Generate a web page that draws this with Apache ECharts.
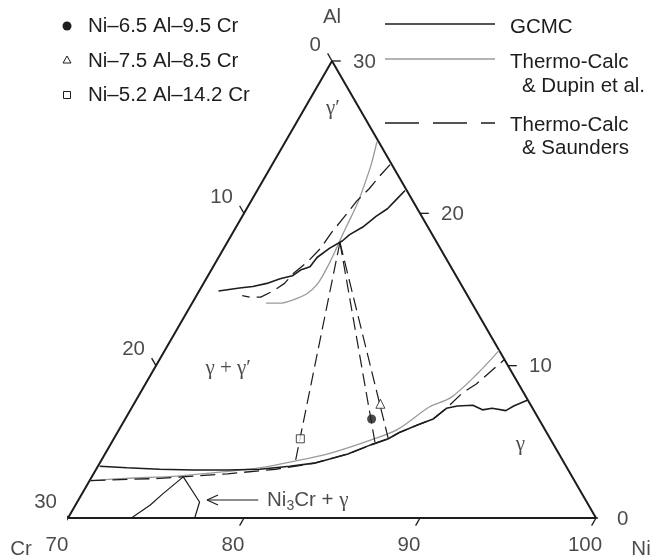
<!DOCTYPE html>
<html>
<head>
<meta charset="utf-8">
<script src="https://cdn.jsdelivr.net/npm/echarts@6/dist/echarts.min.js"></script>
<style>
  html, body { margin: 0; padding: 0; background: #fff; }
  #chart { width: 650px; height: 560px; }
</style>
</head>
<body>
<div id="chart"></div>
<script>
// Compositions in at.% written as [Al, Cr]; Ni is the balance.
const frame = [[0, 30], [0, 0], [30, 0], [0, 30]];

const gcmcUpper = [[21.5, 0.1], [20.9, 0.9], [20.3, 1.7], [19.8, 2.6], [19.1, 3.7], [18.6, 4.7], [18.2, 5.3],
  [17.7, 6.3], [17.1, 7.3], [16.5, 8.0], [16.3, 8.6], [15.9, 9.3], [15.7, 10.1], [15.4, 11.0], [15.2, 11.9],
  [15.1, 12.7], [14.9, 14.0]];
const gcmcLower = [[3.4, 26.5], [3.3, 25.0], [3.2, 23.2], [3.15, 21.3], [3.15, 19.4], [3.2, 17.5], [3.4, 15.7],
  [3.6, 14.2], [4.2, 12.0], [4.8, 10.4], [5.2, 9.2], [5.6, 8.4], [6.1, 7.1], [6.5, 6.0], [7.2, 4.9], [7.35, 4.2],
  [7.4, 3.3], [7.1, 2.9], [7.2, 2.3], [7.05, 1.6], [7.35, 1.0], [7.75, 0.0]];

const dupinUpper = [[24.7, 0.1], [23.3, 1.1], [21.9, 2.2], [20.8, 3.1], [19.8, 4.0], [18.6, 5.1], [17.7, 5.9],
  [16.5, 7.0], [15.4, 8.1], [14.7, 9.1], [14.3, 10.1], [14.1, 10.9], [14.1, 11.7]];
const dupinLower = [[2.45, 27.5], [2.6, 25.4], [2.75, 22.4], [3.05, 19.5], [3.3, 17.4], [3.7, 15.4], [4.25, 13.0],
  [5.1, 10.3], [5.8, 8.4], [7.3, 5.8], [7.9, 4.3], [9.4, 2.1], [11.0, 0.0]];

const saundersUpper = [[23.2, 0.1], [22.5, 1.0], [21.6, 2.1], [20.8, 3.2], [19.7, 4.5], [18.7, 5.7], [17.7, 6.8],
  [16.8, 8.0], [16.1, 9.1], [15.4, 10.0], [14.9, 10.9], [14.5, 11.8], [14.5, 12.4], [14.6, 12.8]];
const saundersLower = [[2.45, 27.5], [2.6, 23.5], [2.9, 19.5], [3.2, 16.6], [3.6, 14.2], [4.2, 12.0], [4.8, 10.4],
  [5.2, 9.2], [5.6, 8.4], [6.1, 7.1], [6.5, 6.0], [7.2, 4.9], [8.2, 3.5], [8.8, 2.4], [9.6, 1.2], [10.4, 0.0]];

// Tie lines through the three alloys
const tieSquare = [[18.1, 5.5], [3.75, 15.2]];
const tieCircle = [[18.1, 5.5], [4.9, 10.1]];
const tieTriangle = [[18.1, 5.5], [5.2, 9.2]];

// Ni3Cr + gamma field near the Ni-Cr side
const ni3CrField = [[0, 26.4], [0.85, 24.9], [1.6, 23.8], [2.7, 22.1], [1.05, 22.0], [0, 22.8]];
const arrowShaft = [[1.18, 18.6], [1.18, 21.5]];
const arrowHead = [[1.51, 20.72], [1.18, 21.51], [0.85, 21.05]];
const ni3CrLabelAt = [1.18, 18.1];

// Alloys
const alloyCircle = [[6.5, 9.5]];
const alloyTriangle = [[7.5, 8.5]];
const alloySquare = [[5.2, 14.2]];

// Phase labels
const phaseLabels = [
  { at: [26.9, 1.5], text: 'γ′' },
  { at: [9.8, 16.0], text: 'γ + γ′' },
  { at: [4.8, 1.9], text: 'γ' }
];

// Axis ticks
const niTicks = [70, 80, 90, 100];
const crTicks = [0, 10, 20, 30];
const alTicks = [0, 10, 20, 30];
const corners = [{ at: [30, 0], name: 'Al' }, { at: [0, 30], name: 'Cr' }, { at: [0, 0], name: 'Ni' }];

const S3 = Math.sqrt(3) / 2;
function toXY(p) {
  const al = p[0], cr = p[1];
  const ni = 100 - al - cr;
  return [ni - 70 + al / 2, al * S3];
}

const FONT = 'Liberation Sans, Arial, Helvetica, sans-serif';
const SERIF = 'Liberation Serif, Times New Roman, serif';
const INK = '#1d1d1d';
const FS = 20.5;

function lineSeries(points, style, extra) {
  return Object.assign({
    type: 'line',
    data: points.map(toXY),
    symbol: 'none',
    clip: false,
    silent: true,
    animation: false,
    lineStyle: style
  }, extra || {});
}

const series = [];
series.push(lineSeries(frame, { color: INK, width: 2 }));

// ticks
const tickStyle = { color: INK, width: 1.3 };
niTicks.forEach(n => series.push(lineSeries([[0, 100 - n], [-0.5, 100 - n + 0.5]], tickStyle)));
crTicks.forEach(c => series.push(lineSeries([[30 - c, c], [30 - c + 0.5, c]], tickStyle)));
alTicks.forEach(a => series.push(lineSeries([[a, 0], [a, -0.5]], tickStyle)));

const gray = { color: '#9a9a9a', width: 1.3 };
const dash = { color: INK, width: 1.3, type: [15, 7] };
const solid = { color: INK, width: 1.6 };
series.push(lineSeries(dupinUpper, gray, { smooth: 0.3 }));
series.push(lineSeries(dupinLower, gray, { smooth: 0.3 }));
series.push(lineSeries(saundersUpper, dash));
series.push(lineSeries(saundersLower, dash));
series.push(lineSeries(gcmcUpper, solid));
series.push(lineSeries(gcmcLower, solid));
const tieDash = { color: INK, width: 1.2, type: [13, 6] };
series.push(lineSeries(tieSquare, tieDash));
series.push(lineSeries(tieCircle, tieDash));
series.push(lineSeries(tieTriangle, tieDash));
series.push(lineSeries(ni3CrField, { color: INK, width: 1.2 }));
series.push(lineSeries(arrowShaft, { color: INK, width: 1.2 }));
series.push(lineSeries(arrowHead, { color: INK, width: 1.2 }));

function labelSeries(items, label) {
  return {
    type: 'scatter',
    data: items.map(it => ({ value: toXY(it.at), txt: it.text })),
    symbolSize: 1,
    itemStyle: { color: 'transparent' },
    silent: true,
    animation: false,
    clip: false,
    label: Object.assign({
      show: true,
      position: 'inside',
      formatter: p => p.data.txt,
      color: INK,
      fontFamily: FONT,
      fontSize: FS,
      verticalAlign: 'middle'
    }, label)
  };
}

series.push(labelSeries(niTicks.map(n => ({ at: [0, 100 - n], text: String(n) })),
  { align: 'center', offset: [-11, 27] }));
series.push(labelSeries(crTicks.map(c => ({ at: [30 - c, c], text: String(c) })),
  { align: 'right', offset: [-11, -16] }));
series.push(labelSeries(alTicks.map(a => ({ at: [a, 0], text: String(a) })),
  { align: 'left', offset: [21, 1] }));
series.push(labelSeries([corners[0]].map(c => ({ at: c.at, text: c.name })), { align: 'center', offset: [0, -44] }));
series.push(labelSeries([corners[1]].map(c => ({ at: c.at, text: c.name })), { align: 'center', offset: [-47, 31] }));
series.push(labelSeries([corners[2]].map(c => ({ at: c.at, text: c.name })), { align: 'center', offset: [45, 31] }));
series.push(labelSeries(phaseLabels, { align: 'center', fontFamily: SERIF, fontSize: 21 }));
series.push(labelSeries([{ at: ni3CrLabelAt, text: '{a|Ni}{s|3}{a|Cr + }{g|γ}' }], {
  align: 'left',
  rich: {
    a: { fontFamily: FONT, fontSize: FS, color: INK },
    s: { fontFamily: FONT, fontSize: 14, color: INK, padding: [12, 0, 0, 0] },
    g: { fontFamily: SERIF, fontSize: 21, color: INK }
  }
}));

// alloy markers
series.push({
  type: 'scatter', data: alloyCircle.map(toXY), symbol: 'circle', symbolSize: 9,
  itemStyle: { color: INK }, silent: true, animation: false, z: 5
});
series.push({
  type: 'scatter', data: alloyTriangle.map(toXY), symbol: 'triangle', symbolSize: 9,
  itemStyle: { color: '#fff', borderColor: INK, borderWidth: 1 }, silent: true, animation: false, z: 5
});
series.push({
  type: 'scatter', data: alloySquare.map(toXY), symbol: 'rect', symbolSize: 8,
  itemStyle: { color: '#fff', borderColor: INK, borderWidth: 1 }, silent: true, animation: false, z: 5
});

const legendText = (x, y, text) => ({
  type: 'text', x: x, y: y,
  style: { text: text, fill: INK, font: FS + 'px ' + FONT, textVerticalAlign: 'middle', verticalAlign: 'middle' }
});

const graphic = [
  { type: 'circle', shape: { cx: 67, cy: 26, r: 4.5 }, style: { fill: INK } },
  { type: 'polygon', shape: { points: [[63, 63], [71, 63], [67, 56]] }, style: { fill: '#fff', stroke: INK, lineWidth: 1 } },
  { type: 'rect', shape: { x: 63.5, y: 91.5, width: 7, height: 7 }, style: { fill: '#fff', stroke: INK, lineWidth: 1 } },
  legendText(88, 26, 'Ni–6.5 Al–9.5 Cr'),
  legendText(88, 61, 'Ni–7.5 Al–8.5 Cr'),
  legendText(88, 95, 'Ni–5.2 Al–14.2 Cr'),
  { type: 'line', shape: { x1: 385, y1: 24, x2: 495, y2: 24 }, style: { stroke: INK, lineWidth: 1.5 } },
  { type: 'line', shape: { x1: 385, y1: 59, x2: 495, y2: 59 }, style: { stroke: '#9a9a9a', lineWidth: 1.3 } },
  { type: 'line', shape: { x1: 385, y1: 123, x2: 495, y2: 123 }, style: { stroke: INK, lineWidth: 1.3, lineDash: [34, 14] } },
  legendText(510, 27, 'GCMC'),
  legendText(510, 62, 'Thermo-Calc'),
  legendText(522, 86, '& Dupin et al.'),
  legendText(510, 125, 'Thermo-Calc'),
  legendText(522, 148, '& Saunders')
];

const chart = echarts.init(document.getElementById('chart'), null, { renderer: 'canvas' });
chart.setOption({
  animation: false,
  backgroundColor: '#fff',
  grid: { left: 68, right: 54, top: 61, bottom: 42, outerBoundsMode: 'none' },
  xAxis: { type: 'value', min: 0, max: 30, show: false },
  yAxis: { type: 'value', min: 0, max: 30 * S3, show: false },
  series: series,
  graphic: graphic
});
</script>
</body>
</html>
